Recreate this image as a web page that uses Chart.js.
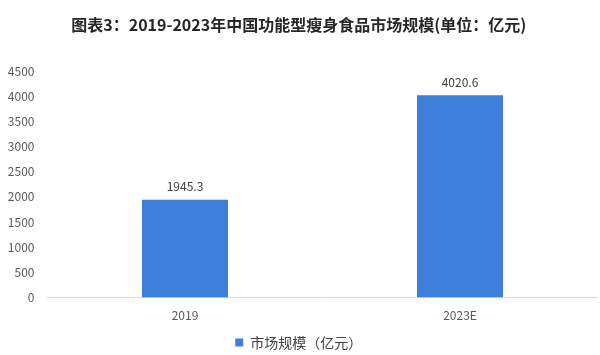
<!DOCTYPE html>
<html>
<head>
<meta charset="utf-8">
<script src="https://cdn.jsdelivr.net/npm/chart.js@4/dist/chart.umd.min.js"></script>
<style>
  html, body { margin: 0; padding: 0; background: #fff; }
  #wrap { width: 600px; height: 355px; position: relative; }
</style>
</head>
<body>
<div id="wrap"><canvas id="grafica"></canvas></div>
<script>
// datos
const categorias = ['2019', '2023E'];
const valores = [1945.3, 4020.6];
const serieNombre = '市场规模（亿元）';
const titulo = '图表3：2019-2023年中国功能型瘦身食品市场规模(单位：亿元)';
const yMax = 4500;
const yPaso = 500;

const fuente = "'Noto Sans CJK SC', 'Noto Sans', sans-serif";

// etiquetas encima de las barras
const etiquetasBarras = {
  id: 'etiquetasBarras',
  afterDatasetsDraw(chart) {
    const ctx = chart.ctx;
    const meta = chart.getDatasetMeta(0);
    ctx.save();
    ctx.font = '12px ' + fuente;
    ctx.fillStyle = '#404040';
    ctx.textAlign = 'center';
    ctx.textBaseline = 'bottom';
    meta.data.forEach((bar, i) => {
      ctx.fillText(valores[i].toFixed(1), bar.x, bar.y - 7);
    });
    ctx.restore();
  }
};

const ctx = document.getElementById('grafica').getContext('2d');
new Chart(ctx, {
  type: 'bar',
  data: {
    labels: categorias,
    datasets: [{
      label: serieNombre,
      data: valores,
      backgroundColor: '#3f7fdc',
      borderWidth: 0,
      categoryPercentage: 1,
      barPercentage: 0.313
    }]
  },
  options: {
    responsive: true,
    maintainAspectRatio: false,
    animation: false,
    layout: { padding: { left: 0, right: 2.5, top: 0, bottom: -4.5 } },
    plugins: {
      title: {
        display: true,
        text: titulo,
        color: '#262626',
        font: { family: fuente, size: 16, weight: 'bold' },
        padding: { top: 15, bottom: 37 }
      },
      legend: {
        position: 'bottom',
        labels: {
          boxWidth: 8,
          boxHeight: 8,
          color: '#404040',
          font: { family: fuente, size: 14 },
          padding: 2
        }
      },
      tooltip: { enabled: false }
    },
    scales: {
      x: {
        afterFit: (scale) => { scale.height = 36; },
        grid: { display: false },
        border: { display: true, color: '#d9d9d9', width: 1 },
        ticks: { color: '#595959', font: { family: fuente, size: 12 }, padding: 3 }
      },
      y: {
        min: 0,
        max: yMax,
        afterFit: (scale) => { scale.width = 47.5; },
        grid: { display: false },
        border: { display: false },
        ticks: {
          stepSize: yPaso,
          color: '#595959',
          font: { family: fuente, size: 12 },
          padding: 5,
          callback: (v) => String(v)
        }
      }
    }
  },
  plugins: [etiquetasBarras]
});
</script>
</body>
</html>
